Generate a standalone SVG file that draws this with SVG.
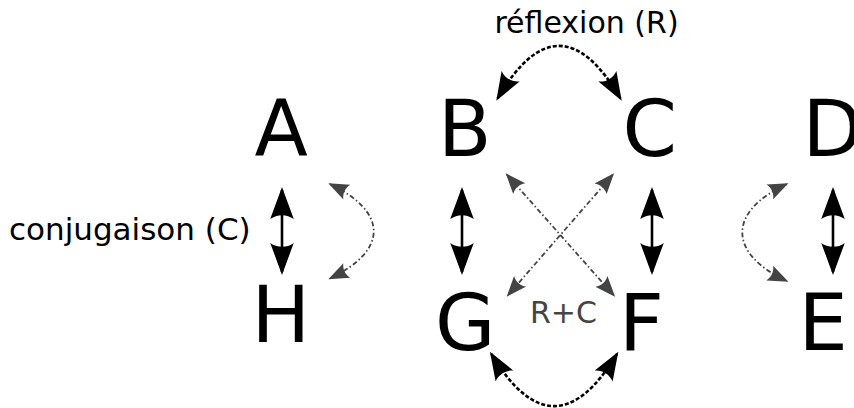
<svg xmlns="http://www.w3.org/2000/svg" width="854" height="408" viewBox="0 0 854 408">
<style>
.L{font-family:"DejaVu Sans",sans-serif;font-size:78px;fill:#000}
.t{font-family:"DejaVu Sans",sans-serif;font-size:30px;fill:#000}
.g{fill:#444}
.solid{fill:none;stroke:#000;stroke-width:2.6}
.dash{fill:none;stroke:#000;stroke-width:2.6;stroke-dasharray:4,2}
.dd{fill:none;stroke:#444;stroke-width:1.8;stroke-dasharray:5,2.5,1.5,2.5}
</style>
<defs>
<marker id="big" markerUnits="userSpaceOnUse" viewBox="-11 -4.5 12.5 9" refX="0" refY="0" markerWidth="36.6" markerHeight="26.4" orient="auto-start-reverse" overflow="visible">
<path d="M1,0 L-9.93,-4.02 C-8.18,-1.63 -8.19,1.62 -9.93,4.02 Z" fill="#000"/>
</marker>
<marker id="mid" markerUnits="userSpaceOnUse" viewBox="-11 -4.5 12.5 9" refX="0" refY="0" markerWidth="32.5" markerHeight="23.4" orient="auto-start-reverse" overflow="visible">
<path d="M1,0 L-9.93,-4.02 C-8.18,-1.63 -8.19,1.62 -9.93,4.02 Z" fill="#000"/>
</marker>
<marker id="gray" markerUnits="userSpaceOnUse" viewBox="-11 -4.5 12.5 9" refX="0" refY="0" markerWidth="23.5" markerHeight="17" orient="auto-start-reverse" overflow="visible">
<path d="M1,0 L-9.93,-4.3 C-8.18,-1.63 -8.19,1.62 -9.93,4.3 Z" fill="#444"/>
</marker>
</defs>
<g id="node-A"><text class="L" x="254.5" y="156">A</text></g>
<g id="node-B"><text class="L" x="438" y="156">B</text></g>
<g id="node-C"><text class="L" x="622.5" y="156">C</text></g>
<g id="node-D"><text class="L" x="802.5" y="156">D</text></g>
<g id="node-H"><text class="L" x="251.5" y="342">H</text></g>
<g id="node-G"><text class="L" x="435" y="350">G</text></g>
<g id="node-F"><text class="L" x="619" y="350">F</text></g>
<g id="node-E"><text class="L" x="798.5" y="350">E</text></g>
<g id="labels">
<text class="t" x="9" y="240" style="font-size:31px">conjugaison (C)</text>
<text class="t" x="586.5" y="33" text-anchor="middle">réflexion (R)</text>
<text class="t g" x="530" y="323">R+C</text>
</g>
<g id="connectors">
<path class="solid" d="M282,190 L282,272" marker-start="url(#big)" marker-end="url(#big)"/>
<path class="solid" d="M462,190 L462,272" marker-start="url(#big)" marker-end="url(#big)"/>
<path class="solid" d="M652,190 L652,272" marker-start="url(#big)" marker-end="url(#big)"/>
<path class="solid" d="M833,190 L833,272" marker-start="url(#big)" marker-end="url(#big)"/>
<path class="dash" d="M497.6,98.5 Q559,-6.7 620.4,98.5" marker-start="url(#mid)" marker-end="url(#mid)"/>
<path class="dash" d="M491.3,353.9 Q554,458.3 617,353.9" marker-start="url(#mid)" marker-end="url(#mid)"/>
<path class="dd" d="M506.9,174.6 L613.8,295.4" marker-start="url(#gray)" marker-end="url(#gray)"/>
<path class="dd" d="M612.8,174.7 L507.9,295.3" marker-start="url(#gray)" marker-end="url(#gray)"/>
<path class="dd" d="M330,184.1 C388.3,212 388.3,250.5 330,278.5" marker-start="url(#gray)" marker-end="url(#gray)"/>
<path class="dd" d="M786.7,184.1 C727.5,211.5 727.5,253.5 786.7,280.9" marker-start="url(#gray)" marker-end="url(#gray)"/>
</g>
</svg>
